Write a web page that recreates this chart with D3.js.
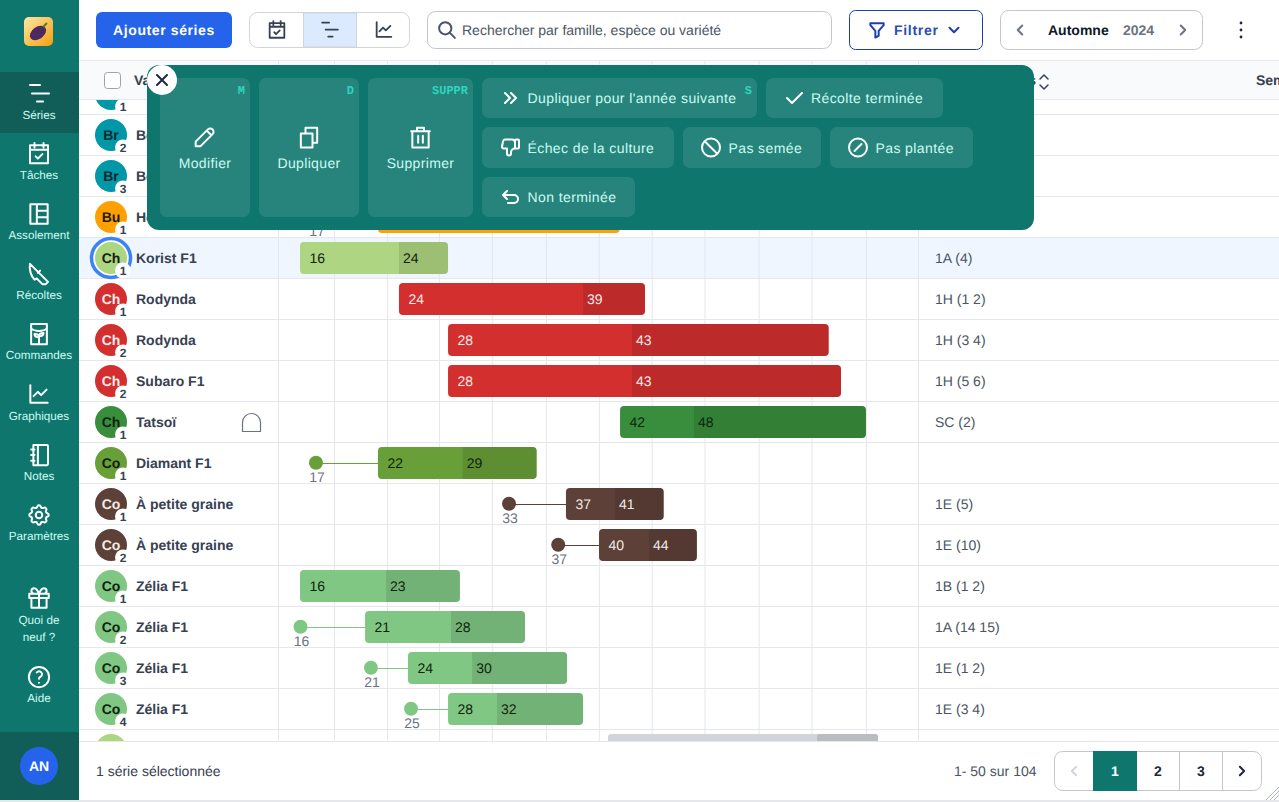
<!DOCTYPE html>
<html lang="fr">
<head>
<meta charset="utf-8">
<title>Séries</title>
<script src="https://cdn.jsdelivr.net/npm/d3@7"></script>
<style>
  html, body { margin: 0; padding: 0; background: #fff; overflow: hidden; }
  svg { display: block; }
  text { font-family: "Liberation Sans", Arial, sans-serif; text-rendering: geometricPrecision; }
  .mono { font-family: "Liberation Mono", "DejaVu Sans Mono", monospace; }
</style>
</head>
<body>
<script>
// DATA - one entry per table row, weeks
const crops = ['brocoli', 'brocoli', 'brocoli', 'butternut', 'choux', 'rouge', 'rouge', 'rouge', 'tatsoi', 'diamant', 'radis', 'radis', 'zelia', 'zelia', 'zelia', 'zelia', 'choux'];
const codes = ['Br', 'Br', 'Br', 'Bu', 'Ch', 'Ch', 'Ch', 'Ch', 'Ch', 'Co', 'Co', 'Co', 'Co', 'Co', 'Co', 'Co', ''];
const successions = [1, 2, 3, 1, 1, 1, 2, 2, 1, 1, 1, 2, 1, 2, 3, 4, ''];
const varieties = ['', 'Belstar F1', 'Belstar F1', 'Hokkaido', 'Korist F1', 'Rodynda', 'Rodynda', 'Subaro F1', 'Tatsoï', 'Diamant F1', 'À petite graine', 'À petite graine', 'Zélia F1', 'Zélia F1', 'Zélia F1', 'Zélia F1', ''];
const nurseryWeeks = [null, null, null, 17.3, null, null, null, null, null, 17.3, 33, 37, null, 16.04, 21.77, 25.03, null];
const plantWeeks = [null, null, null, 22.34, 16, 24.05, 28.04, 28.04, 42.03, 22.34, 37.63, 40.32, 16, 21.29, 24.78, 28.04, null];
const harvestWeeks = [null, null, null, null, 24.05, 39.02, 43, 43, 48.05, 29.23, 41.62, 44.39, 23, 28.28, 30, 32.02, null];
const endWeeks = [null, null, null, 42, 28.04, 44.06, 59, 60, 62.03, 35.25, 45.58, 48.28, 29.01, 34.3, 37.72, 39.02, null];
const beds = ['', '', '', '', '1A (4)', '1H (1 2)', '1H (3 4)', '1H (5 6)', 'SC (2)', '', '1E (5)', '1E (10)', '1B (1 2)', '1A (14 15)', '1E (1 2)', '1E (3 4)', ''];
const monthTicks = [18.77, 23.08, 27.3, 31.6, 36, 40.3, 44.6, 48.9, 53.3, 57.6, 62.03];

const navLabels = ['Séries', 'Tâches', 'Assolement', 'Récoltes', 'Commandes', 'Graphiques', 'Notes', 'Paramètres', 'Aide'];
const pageLabels = ['1', '2', '3'];

const teal = '#0f766e';
const tealDark = '#115e59';
const gridColor = '#e5e7eb';

// colours by crop
const cropColor = d3.scaleOrdinal()
  .domain(['brocoli', 'butternut', 'choux', 'rouge', 'tatsoi', 'diamant', 'radis', 'zelia'])
  .range(['#0097a7', '#ffa000', '#aed581', '#d32f2f', '#388e3c', '#689f38', '#5d4037', '#81c784']);
const cropText = d3.scaleOrdinal()
  .domain(cropColor.domain())
  .range(['#0f2a30', '#1f1a10', '#14210f', '#f5ecec', '#10240f', '#11200c', '#f1ebe8', '#10230f']);

// SCALES
const x = d3.scaleLinear().domain([16, 60]).range([300, 841]);
const rowHeight = 41;
const y = d3.scaleBand()
  .domain(d3.range(crops.length))
  .range([73.5, 73.5 + rowHeight * crops.length]);

const svg = d3.select('body')
  .append('svg')
  .attr('width', 1279)
  .attr('height', 802)
  .attr('viewBox', '0 0 1279 802');

// ICONS (24x24 strokes)
const icons = {
  series: 'M3 3h10 M5 11.500h17 M10 19.500h6',
  seriesSmall: 'M3 3.500h8 M7 11.500h14 M10 19.500h5',
  calendar: 'M4 5h16v16h-16z M8 3v4 M16 3v4 M4 9h16 M9 15l2 2l4 -4',
  table: 'M4 3h16v18h-16z M10 3v18 M10 9h10 M10 15h10',
  knife: 'M4 3l16 16l-2 2h-3l-5 -5l-2 1c-3 -3 -5 -9 -4 -14z M11 11l2 -2',
  packet: 'M5 3h14v18h-14z M5 7c3 3 11 3 14 0 M12 20v-7 M12 15c-3 0 -4 -1 -4 -3c3 0 4 1 4 3 M12 14c0 -2 1 -3 4 -3c0 2 -1 3 -4 3',
  chart: 'M4 4v16h16 M7 14l4 -4l3 3l5 -5',
  notes: 'M7 3h12a1 1 0 0 1 1 1v16a1 1 0 0 1 -1 1h-12z M11 3v18 M5 7h3 M5 12h3 M5 17h3',
  gear: 'M10.325 4.317c.426 -1.756 2.924 -1.756 3.35 0a1.724 1.724 0 0 0 2.573 1.066c1.543 -.94 3.31 .826 2.37 2.37a1.724 1.724 0 0 0 1.065 2.572c1.756 .426 1.756 2.924 0 3.35a1.724 1.724 0 0 0 -1.066 2.573c.94 1.543 -.826 3.31 -2.37 2.37a1.724 1.724 0 0 0 -2.572 1.065c-.426 1.756 -2.924 1.756 -3.35 0a1.724 1.724 0 0 0 -2.573 -1.066c-1.543 .94 -3.31 -.826 -2.37 -2.37a1.724 1.724 0 0 0 -1.065 -2.572c-1.756 -.426 -1.756 -2.924 0 -3.35a1.724 1.724 0 0 0 1.066 -2.573c-.94 -1.543 .826 -3.31 2.37 -2.37c1 .608 2.296 .07 2.572 -1.065z M9 12a3 3 0 1 0 6 0a3 3 0 0 0 -6 0',
  gift: 'M3 8h18v4h-18z M12 8v13 M19 12v9h-14v-9 M7.500 8a2.500 2.500 0 0 1 0 -5c2.500 0 4.500 5 4.500 5c0 0 2 -5 4.500 -5a2.500 2.500 0 0 1 0 5',
  help: 'M3 12a9 9 0 1 0 18 0a9 9 0 0 0 -18 0 M12 17v.01 M12 13.500a1.500 1.500 0 0 1 1 -1.500a2.600 2.600 0 1 0 -3 -4',
  search: 'M3 10a7 7 0 1 0 14 0a7 7 0 0 0 -14 0 M21 21l-6 -6',
  funnel: 'M4 4h16v2.200l-6 6.800v6l-4 2v-8l-6 -6.800z',
  down: 'M6 9l6 6l6 -6',
  sort: 'M8 9l4 -4l4 4 M8 15l4 4l4 -4',
  left: 'M15 6l-6 6l6 6',
  right: 'M9 6l6 6l-6 6',
  close: 'M6 6l12 12 M18 6l-12 12',
  pencil: 'M4 20h4l10.500 -10.500a2.828 2.828 0 1 0 -4 -4l-10.500 10.500v4 M13.500 6.500l4 4',
  copy: 'M5 9h10v12h-10z M9 9v-5h10v13h-4',
  trash: 'M4 7h16 M10 11v6 M14 11v6 M5 7v14h14v-14 M9 7v-3h6v3',
  chevrons: 'M7 7l5 5l-5 5 M13 7l5 5l-5 5',
  check: 'M5 12l5 5l10 -10',
  thumb: 'M17 13v-8a1 1 0 0 1 1 -1h2a1 1 0 0 1 1 1v7a1 1 0 0 1 -1 1h-3a4 4 0 0 0 -4 4v1a2 2 0 0 1 -4 0v-5h-3a2 2 0 0 1 -2 -2l1 -5a2 3 0 0 1 2 -2h7a3 3 0 0 1 3 3',
  ban: 'M3 12a9 9 0 1 0 18 0a9 9 0 0 0 -18 0 M5.700 5.700l12.600 12.600',
  slash: 'M3 12a9 9 0 1 0 18 0a9 9 0 0 0 -18 0 M15.500 8.500l-7 7',
  undo: 'M9 14l-4 -4l4 -4 M5 10h11a4 4 0 1 1 0 8h-6'
};

const drawIcon = (parent, name, cx, cy, size, color, width = 2) =>
  parent.append('path')
    .attr('d', icons[name])
    .attr('transform', `translate(${cx - size / 2},${cy - size / 2}) scale(${size / 24})`)
    .attr('fill', 'none')
    .attr('stroke', color)
    .attr('stroke-width', width)
    .attr('vector-effect', 'non-scaling-stroke')
    .attr('stroke-linecap', 'round')
    .attr('stroke-linejoin', 'round');

const drawText = (parent, str, px, py, size, color, opts = {}) =>
  parent.append('text')
    .text(str)
    .attr('x', px)
    .attr('y', py)
    .attr('font-size', size)
    .attr('fill', color)
    .attr('font-weight', opts.weight || 400)
    .attr('text-anchor', opts.anchor || 'start')
    .attr('letter-spacing', opts.spacing || 0);

const drawBox = (parent, x0, y0, x1, y1, radius, fill, stroke) =>
  parent.append('rect')
    .attr('x', x0)
    .attr('y', y0)
    .attr('width', x1 - x0)
    .attr('height', y1 - y0)
    .attr('rx', radius)
    .attr('fill', fill)
    .attr('stroke', stroke || 'none');

// CLIPS
svg.append('clipPath').attr('id', 'bodyClip')
  .append('rect').attr('x', 79).attr('y', 100).attr('width', 1200).attr('height', 641);
svg.append('clipPath').attr('id', 'scrollClip')
  .append('rect').attr('x', 600).attr('y', 730).attr('width', 300).attr('height', 11);

// TABLE HEADER
drawBox(svg, 79, 61, 1279, 100, 0, '#f9fafb');
svg.append('line').attr('x1', 79).attr('x2', 1279).attr('y1', 60.5).attr('y2', 60.5).attr('stroke', gridColor);
svg.append('line').attr('x1', 79).attr('x2', 1279).attr('y1', 99.5).attr('y2', 99.5).attr('stroke', gridColor);
drawBox(svg, 104.5, 72.5, 120.5, 88.5, 3, '#fff', '#9ca3af');
drawText(svg, 'Variété', 134, 85, 14, '#374151', { weight: 700 });
drawText(svg, 'Emplacements', 1036, 85, 14, '#374151', { weight: 700, anchor: 'end' });
drawIcon(svg, 'sort', 1044, 82, 24, '#374151', 1.5);
drawText(svg, 'Semis', 1256, 85, 14, '#374151', { weight: 700 });

// selected row background goes under the grid
drawBox(svg, 79, y(4), 1279, y(4) + rowHeight, 0, '#eff6ff');

// grid lines come from a tick-only axis
const gridAxis = d3.axisTop(x).tickValues(monthTicks).tickSize(-680).tickFormat('');
const grid = svg.append('g')
  .attr('transform', 'translate(0,61)')
  .call(gridAxis);
grid.select('.domain').remove();
grid.selectAll('line').attr('stroke', gridColor);

[278.5, 918.5].forEach((px) => {
  svg.append('line').attr('x1', px).attr('x2', px).attr('y1', 61).attr('y2', 741).attr('stroke', gridColor);
});

// TABLE BODY
const body = svg.append('g').attr('clip-path', 'url(#bodyClip)');

body.selectAll('line.row')
  .data(d3.range(crops.length))
  .join('line')
  .attr('class', 'row')
  .attr('x1', 79)
  .attr('x2', 1279)
  .attr('y1', (d) => y(d) + rowHeight)
  .attr('y2', (d) => y(d) + rowHeight)
  .attr('stroke', gridColor);

const rows = body.selectAll('g.serie')
  .data(d3.range(crops.length))
  .join('g')
  .attr('class', 'serie')
  .attr('transform', (d) => `translate(0,${y(d)})`);

rows.each(function (i) {
  const row = d3.select(this);
  const mid = rowHeight / 2;
  const color = cropColor(crops[i]);
  const ink = cropText(crops[i]);

  // gantt
  if (nurseryWeeks[i] !== null) {
    row.append('line')
      .attr('x1', x(nurseryWeeks[i]))
      .attr('x2', x(plantWeeks[i]))
      .attr('y1', 21)
      .attr('y2', 21)
      .attr('stroke', color);
    row.append('circle')
      .attr('cx', x(nurseryWeeks[i]))
      .attr('cy', 20.3)
      .attr('r', 7)
      .attr('fill', color);
    drawText(row, Math.floor(nurseryWeeks[i]), x(nurseryWeeks[i]) + 1, 39, 14, '#6b7280', { anchor: 'middle' });
  }
  if (plantWeeks[i] !== null) {
    drawBox(row, x(plantWeeks[i]), 4.5, x(endWeeks[i]), 36.5, 4, color);
    drawText(row, Math.floor(plantWeeks[i]), x(plantWeeks[i]) + 9.5, mid + 5, 14, ink);
  }
  if (harvestWeeks[i] !== null) {
    const h0 = x(harvestWeeks[i]);
    const h1 = x(endWeeks[i]);
    row.append('path')
      .attr('d', `M${h0},4.5H${h1 - 4}a4,4 0 0 1 4,4V32.5a4,4 0 0 1 -4,4H${h0}Z`)
      .attr('fill', '#000')
      .attr('opacity', 0.1);
    drawText(row, Math.floor(harvestWeeks[i]), h0 + 4, mid + 5, 14, ink);
  }

  // avatar
  if (i === 4) {
    row.append('circle').attr('cx', 111).attr('cy', mid).attr('r', 19.5)
      .attr('fill', '#fff').attr('stroke', '#3b82f6').attr('stroke-width', 3.5);
  }
  row.append('circle').attr('cx', 111).attr('cy', mid).attr('r', 16).attr('fill', color);
  drawText(row, codes[i], 111, mid + 5, 14, ink, { weight: 700, anchor: 'middle' });
  row.append('circle').attr('cx', 123).attr('cy', mid + 12.5).attr('r', 8).attr('fill', '#fff');
  drawText(row, successions[i], 123, mid + 16.5, 12, '#374151', { weight: 700, anchor: 'middle' });

  drawText(row, varieties[i], 136, mid + 5, 14, '#374151', { weight: 700 });
  drawText(row, beds[i], 935, mid + 5, 14, '#4b5563');
});

// greenhouse mark next to Tatsoï
svg.append('path')
  .attr('d', 'M242.500,431.500v-9a9,9 0 0 1 18,0v9z')
  .attr('fill', 'none')
  .attr('stroke', '#6b7280')
  .attr('stroke-width', 1.2);

// scrollbar
const scroll = svg.append('g').attr('clip-path', 'url(#scrollClip)');
drawBox(scroll, 608, 734, 878, 750, 3, '#d1d5db');
drawBox(scroll, 817, 734, 878, 750, 3, '#b9bcc1');

// TOP BAR
drawBox(svg, 96, 12, 232, 48, 6, '#2563eb');
drawText(svg, 'Ajouter séries', 164, 35, 14, '#fff', { weight: 700, anchor: 'middle', spacing: 0.6 });

drawBox(svg, 249.5, 12.5, 409.5, 47.5, 8, '#fff', '#d1d5db');
drawBox(svg, 303.5, 13, 356.5, 47, 0, '#dbeafe', '#d1d5db');
drawIcon(svg, 'calendar', 277, 29.500, 22, '#374151', 1.8);
drawIcon(svg, 'seriesSmall', 330, 30, 21, '#374151', 1.8);
drawIcon(svg, 'chart', 384, 29.500, 22, '#374151', 1.8);

drawBox(svg, 427.5, 11.5, 831.5, 48.5, 8, '#fff', '#c4c6ca');
drawIcon(svg, 'search', 447, 30, 21, '#4b5563');
drawText(svg, 'Rechercher par famille, espèce ou variété', 462, 35, 14, '#4b5563');

drawBox(svg, 849.5, 10.5, 982.5, 49.5, 6, '#fff', '#1e40af');
drawIcon(svg, 'funnel', 877, 30, 20, '#1e40af');
drawText(svg, 'Filtrer', 894, 35, 14, '#2b50b0', { weight: 700, spacing: 0.7 });
drawIcon(svg, 'down', 954, 30, 18, '#1e40af');

drawBox(svg, 1000.5, 10.5, 1202.5, 49.500, 8, '#fff', '#c4c6ca');
drawIcon(svg, 'left', 1020, 30, 18, '#6b7280');
drawText(svg, 'Automne', 1048, 35, 14, '#111827', { weight: 700 });
drawText(svg, '2024', 1123, 35, 14, '#6b7280', { weight: 700 });
drawIcon(svg, 'right', 1183, 30, 18, '#6b7280');
[23, 30, 37].forEach((cy) => svg.append('circle').attr('cx', 1241).attr('cy', cy).attr('r', 1.4).attr('fill', '#1f2937'));

// SIDEBAR
drawBox(svg, 0, 0, 79, 800, 0, teal);
drawBox(svg, 0, 72, 79, 133, 0, tealDark);
drawBox(svg, 0, 732, 79, 800, 0, tealDark);

const logoGrad = svg.append('linearGradient').attr('id', 'logoGrad')
  .attr('x1', 0).attr('y1', 0).attr('x2', 1).attr('y2', 1);
logoGrad.append('stop').attr('offset', 0).attr('stop-color', '#fde9a9');
logoGrad.append('stop').attr('offset', 1).attr('stop-color', '#f59e0b');
drawBox(svg, 24, 17, 53, 46, 5, 'url(#logoGrad)');
svg.append('ellipse').attr('cx', 38).attr('cy', 33).attr('rx', 9).attr('ry', 6)
  .attr('transform', 'rotate(-35 38 33)').attr('fill', '#4c2a5e');
svg.append('path').attr('d', 'M43,27l4,-4').attr('stroke', '#5a7a2a').attr('stroke-width', 2);

const navIcons = ['series', 'calendar', 'table', 'knife', 'packet', 'chart', 'notes', 'gear', 'help'];
const navIconSize = [24, 27, 26, 27, 27, 26, 27, 26, 27];
const navIconY = [94, 153, 214, 274, 334, 394, 455, 515, 677];
const navTextY = [119, 179, 239, 299, 359, 420, 480, 540, 702];
navLabels.forEach((name, i) => {
  drawIcon(svg, navIcons[i], 39, navIconY[i], navIconSize[i], '#fff');
  drawText(svg, name, 39, navTextY[i], 11.7, '#ccfbf1', { anchor: 'middle' });
});
drawIcon(svg, 'gift', 39, 598, 26, '#fff');
drawText(svg, 'Quoi de', 39, 624, 11.7, '#ccfbf1', { anchor: 'middle' });
drawText(svg, 'neuf ?', 39, 641, 11.7, '#ccfbf1', { anchor: 'middle' });

svg.append('circle').attr('cx', 39).attr('cy', 766).attr('r', 19).attr('fill', '#2563eb');
drawText(svg, 'AN', 39, 771, 14, '#fff', { weight: 700, anchor: 'middle' });

// ACTION POPUP
drawBox(svg, 147, 65, 1034, 230, 12, teal);
const btnFill = 'rgba(255,255,255,0.1)';
const btnText = '#ccfbf1';
const shortcut = (str, px) => drawText(svg, str, px, 94, 12, '#2dd4bf', { weight: 700, anchor: 'end' }).attr('class', 'mono');

[
  [160, 250, 'pencil', 'Modifier', 'M'],
  [259, 359, 'copy', 'Dupliquer', 'D'],
  [368, 473, 'trash', 'Supprimer', 'SUPPR']
].forEach(([x0, x1, icon, name, key]) => {
  const cx = (x0 + x1) / 2;
  drawBox(svg, x0, 78, x1, 217, 7, btnFill);
  drawIcon(svg, icon, cx, 137, 28, '#fff');
  drawText(svg, name, cx, 168, 14, btnText, { anchor: 'middle', spacing: 0.35 });
  shortcut(key, x1 - 5);
});

[
  [482, 757, 78, 118, 'chevrons', 510, 'Dupliquer pour l\'année suivante', 527.5],
  [766, 943, 78, 118, 'check', 794, 'Récolte terminée', 811],
  [482, 674, 127, 168, 'thumb', 510, 'Échec de la culture', 527.5],
  [683, 821, 127, 168, 'ban', 711, 'Pas semée', 728.5],
  [830, 973, 127, 168, 'slash', 858, 'Pas plantée', 875.5],
  [482, 635, 177, 217, 'undo', 510, 'Non terminée', 527.5]
].forEach(([x0, x1, y0, y1, icon, ix, name, tx]) => {
  const cy = (y0 + y1) / 2;
  drawBox(svg, x0, y0, x1, y1, 7, btnFill);
  drawIcon(svg, icon, ix, cy, 24, '#fff');
  drawText(svg, name, tx, cy + 5, 14, btnText, { spacing: 0.4 });
});
shortcut('S', 752);

svg.append('circle').attr('cx', 162).attr('cy', 80).attr('r', 15).attr('fill', '#fff');
drawIcon(svg, 'close', 162, 80, 20, '#1f2937');

// FOOTER
drawBox(svg, 79, 741, 1279, 800, 0, '#fff');
svg.append('line').attr('x1', 79).attr('x2', 1279).attr('y1', 741.5).attr('y2', 741.5).attr('stroke', gridColor);
drawText(svg, '1 série sélectionnée', 96, 776, 14, '#374151');
drawText(svg, '1- 50 sur 104', 954, 776, 14, '#4b5563');

const pageX = d3.scalePoint().domain(pageLabels).range([1115, 1201]);
drawBox(svg, 1054.5, 751.5, 1261.5, 790.5, 8, '#fff', '#c4c6ca');
drawBox(svg, 1093, 751, 1137, 791, 0, teal);
[1179.5, 1222.5].forEach((px) => {
  svg.append('line').attr('x1', px).attr('x2', px).attr('y1', 751).attr('y2', 791).attr('stroke', '#c4c6ca');
});
pageLabels.forEach((p, i) => {
  drawText(svg, p, pageX(p), 776, 14, i === 0 ? '#fff' : '#1f2937', { weight: 700, anchor: 'middle' });
});
drawIcon(svg, 'left', 1074, 771, 17, '#d1d5db');
drawIcon(svg, 'right', 1242, 771, 17, '#1f2937');

// resize handle + window edge
svg.append('path').attr('d', 'M1266,800L1279,787M1270,800L1279,791M1274,800L1279,795')
  .attr('stroke', '#9ca3af').attr('stroke-width', 0.8);
drawBox(svg, 0, 800, 1279, 802, 0, '#e5e7eb');
</script>
</body>
</html>
